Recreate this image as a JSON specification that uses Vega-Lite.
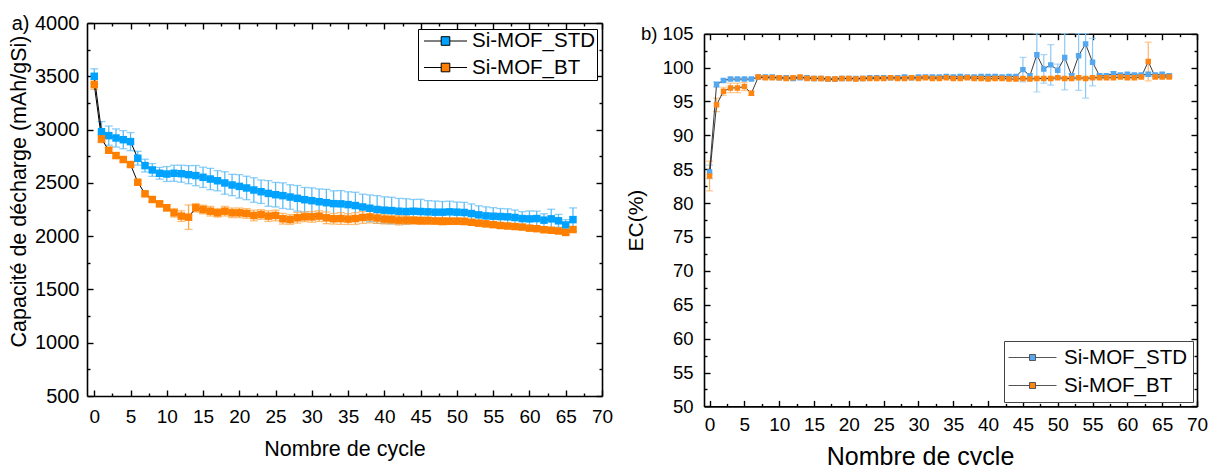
{
  "$schema": "https://vega.github.io/schema/vega-lite/v6.json",
  "padding": {"left": 8, "top": 13, "right": 0, "bottom": 0},
  "background": "white",
  "columns": 2,
  "align": "none",
  "spacing": 12,
  "config": {
    "font": "Liberation Sans",
    "view": {"stroke": null},
    "axis": {"grid": false, "domainColor": "black", "tickColor": "black", "labelColor": "black", "titleColor": "black", "titleFontWeight": "normal", "labelFlush": false, "labelOverlap": false, "domainWidth": 1.6, "tickWidth": 1.4, "labelFontSize": 19, "titleFontSize": 21.5, "labelFont": "Liberation Sans", "titleFont": "Liberation Sans"}
  },
  "resolve": {"scale": {"color": "independent", "x": "independent", "y": "independent"}, "legend": {"color": "independent"}},
  "datasets": {
    "cap": [
      {"cycle":0,"series":"Si-MOF_STD","value":3500,"error":70},{"cycle":1,"series":"Si-MOF_STD","value":2980,"error":95},{"cycle":2,"series":"Si-MOF_STD","value":2943,"error":90},{"cycle":3,"series":"Si-MOF_STD","value":2921,"error":85},{"cycle":4,"series":"Si-MOF_STD","value":2905,"error":85},{"cycle":5,"series":"Si-MOF_STD","value":2887,"error":85},{"cycle":6,"series":"Si-MOF_STD","value":2731,"error":65},{"cycle":7,"series":"Si-MOF_STD","value":2662,"error":60},{"cycle":8,"series":"Si-MOF_STD","value":2621,"error":60},{"cycle":9,"series":"Si-MOF_STD","value":2590,"error":55},
      {"cycle":10,"series":"Si-MOF_STD","value":2583,"error":70},{"cycle":11,"series":"Si-MOF_STD","value":2590,"error":75},{"cycle":12,"series":"Si-MOF_STD","value":2586,"error":80},{"cycle":13,"series":"Si-MOF_STD","value":2577,"error":85},{"cycle":14,"series":"Si-MOF_STD","value":2568,"error":95},{"cycle":15,"series":"Si-MOF_STD","value":2552,"error":95},{"cycle":16,"series":"Si-MOF_STD","value":2536,"error":100},{"cycle":17,"series":"Si-MOF_STD","value":2520,"error":95},{"cycle":18,"series":"Si-MOF_STD","value":2499,"error":105},{"cycle":19,"series":"Si-MOF_STD","value":2480,"error":100},
      {"cycle":20,"series":"Si-MOF_STD","value":2467,"error":110},{"cycle":21,"series":"Si-MOF_STD","value":2452,"error":110},{"cycle":22,"series":"Si-MOF_STD","value":2433,"error":115},{"cycle":23,"series":"Si-MOF_STD","value":2417,"error":110},{"cycle":24,"series":"Si-MOF_STD","value":2401,"error":120},{"cycle":25,"series":"Si-MOF_STD","value":2389,"error":115},{"cycle":26,"series":"Si-MOF_STD","value":2380,"error":120},{"cycle":27,"series":"Si-MOF_STD","value":2367,"error":115},{"cycle":28,"series":"Si-MOF_STD","value":2355,"error":120},{"cycle":29,"series":"Si-MOF_STD","value":2342,"error":115},
      {"cycle":30,"series":"Si-MOF_STD","value":2333,"error":120},{"cycle":31,"series":"Si-MOF_STD","value":2323,"error":120},{"cycle":32,"series":"Si-MOF_STD","value":2314,"error":125},{"cycle":33,"series":"Si-MOF_STD","value":2305,"error":120},{"cycle":34,"series":"Si-MOF_STD","value":2303,"error":125},{"cycle":35,"series":"Si-MOF_STD","value":2296,"error":120},{"cycle":36,"series":"Si-MOF_STD","value":2287,"error":125},{"cycle":37,"series":"Si-MOF_STD","value":2274,"error":120},{"cycle":38,"series":"Si-MOF_STD","value":2262,"error":125},{"cycle":39,"series":"Si-MOF_STD","value":2250,"error":130},
      {"cycle":40,"series":"Si-MOF_STD","value":2244,"error":125},{"cycle":41,"series":"Si-MOF_STD","value":2240,"error":125},{"cycle":42,"series":"Si-MOF_STD","value":2234,"error":120},{"cycle":43,"series":"Si-MOF_STD","value":2231,"error":120},{"cycle":44,"series":"Si-MOF_STD","value":2234,"error":110},{"cycle":45,"series":"Si-MOF_STD","value":2231,"error":115},{"cycle":46,"series":"Si-MOF_STD","value":2228,"error":105},{"cycle":47,"series":"Si-MOF_STD","value":2225,"error":105},{"cycle":48,"series":"Si-MOF_STD","value":2225,"error":100},{"cycle":49,"series":"Si-MOF_STD","value":2228,"error":100},
      {"cycle":50,"series":"Si-MOF_STD","value":2225,"error":95},{"cycle":51,"series":"Si-MOF_STD","value":2222,"error":95},{"cycle":52,"series":"Si-MOF_STD","value":2212,"error":90},{"cycle":53,"series":"Si-MOF_STD","value":2200,"error":85},{"cycle":54,"series":"Si-MOF_STD","value":2190,"error":85},{"cycle":55,"series":"Si-MOF_STD","value":2187,"error":80},{"cycle":56,"series":"Si-MOF_STD","value":2184,"error":75},{"cycle":57,"series":"Si-MOF_STD","value":2181,"error":75},{"cycle":58,"series":"Si-MOF_STD","value":2175,"error":70},{"cycle":59,"series":"Si-MOF_STD","value":2165,"error":65},
      {"cycle":60,"series":"Si-MOF_STD","value":2162,"error":75},{"cycle":61,"series":"Si-MOF_STD","value":2165,"error":70},{"cycle":62,"series":"Si-MOF_STD","value":2150,"error":60},{"cycle":63,"series":"Si-MOF_STD","value":2162,"error":90},{"cycle":64,"series":"Si-MOF_STD","value":2144,"error":60},{"cycle":65,"series":"Si-MOF_STD","value":2105,"error":50},{"cycle":66,"series":"Si-MOF_STD","value":2155,"error":110},
      {"cycle":0,"series":"Si-MOF_BT","value":3422,"error":45},{"cycle":1,"series":"Si-MOF_BT","value":2912,"error":35},{"cycle":2,"series":"Si-MOF_BT","value":2806,"error":25},{"cycle":3,"series":"Si-MOF_BT","value":2756,"error":25},{"cycle":4,"series":"Si-MOF_BT","value":2719,"error":20},{"cycle":5,"series":"Si-MOF_BT","value":2672,"error":20},{"cycle":6,"series":"Si-MOF_BT","value":2506,"error":20},{"cycle":7,"series":"Si-MOF_BT","value":2397,"error":20},{"cycle":8,"series":"Si-MOF_BT","value":2344,"error":20},{"cycle":9,"series":"Si-MOF_BT","value":2303,"error":25},
      {"cycle":10,"series":"Si-MOF_BT","value":2266,"error":30},{"cycle":11,"series":"Si-MOF_BT","value":2219,"error":40},{"cycle":12,"series":"Si-MOF_BT","value":2188,"error":50},{"cycle":13,"series":"Si-MOF_BT","value":2178,"error":115},{"cycle":14,"series":"Si-MOF_BT","value":2266,"error":40},{"cycle":15,"series":"Si-MOF_BT","value":2250,"error":40},{"cycle":16,"series":"Si-MOF_BT","value":2234,"error":45},{"cycle":17,"series":"Si-MOF_BT","value":2219,"error":40},{"cycle":18,"series":"Si-MOF_BT","value":2234,"error":45},{"cycle":19,"series":"Si-MOF_BT","value":2219,"error":45},
      {"cycle":20,"series":"Si-MOF_BT","value":2219,"error":45},{"cycle":21,"series":"Si-MOF_BT","value":2213,"error":45},{"cycle":22,"series":"Si-MOF_BT","value":2194,"error":50},{"cycle":23,"series":"Si-MOF_BT","value":2203,"error":45},{"cycle":24,"series":"Si-MOF_BT","value":2188,"error":50},{"cycle":25,"series":"Si-MOF_BT","value":2194,"error":50},{"cycle":26,"series":"Si-MOF_BT","value":2163,"error":50},{"cycle":27,"series":"Si-MOF_BT","value":2156,"error":45},{"cycle":28,"series":"Si-MOF_BT","value":2172,"error":50},{"cycle":29,"series":"Si-MOF_BT","value":2181,"error":45},
      {"cycle":30,"series":"Si-MOF_BT","value":2181,"error":50},{"cycle":31,"series":"Si-MOF_BT","value":2188,"error":50},{"cycle":32,"series":"Si-MOF_BT","value":2172,"error":55},{"cycle":33,"series":"Si-MOF_BT","value":2163,"error":50},{"cycle":34,"series":"Si-MOF_BT","value":2165,"error":55},{"cycle":35,"series":"Si-MOF_BT","value":2160,"error":50},{"cycle":36,"series":"Si-MOF_BT","value":2165,"error":55},{"cycle":37,"series":"Si-MOF_BT","value":2175,"error":55},{"cycle":38,"series":"Si-MOF_BT","value":2180,"error":55},{"cycle":39,"series":"Si-MOF_BT","value":2170,"error":50},
      {"cycle":40,"series":"Si-MOF_BT","value":2160,"error":45},{"cycle":41,"series":"Si-MOF_BT","value":2155,"error":40},{"cycle":42,"series":"Si-MOF_BT","value":2150,"error":45},{"cycle":43,"series":"Si-MOF_BT","value":2150,"error":40},{"cycle":44,"series":"Si-MOF_BT","value":2148,"error":35},{"cycle":45,"series":"Si-MOF_BT","value":2145,"error":35},{"cycle":46,"series":"Si-MOF_BT","value":2145,"error":35},{"cycle":47,"series":"Si-MOF_BT","value":2142,"error":30},{"cycle":48,"series":"Si-MOF_BT","value":2140,"error":35},{"cycle":49,"series":"Si-MOF_BT","value":2140,"error":30},
      {"cycle":50,"series":"Si-MOF_BT","value":2140,"error":30},{"cycle":51,"series":"Si-MOF_BT","value":2138,"error":30},{"cycle":52,"series":"Si-MOF_BT","value":2130,"error":25},{"cycle":53,"series":"Si-MOF_BT","value":2122,"error":25},{"cycle":54,"series":"Si-MOF_BT","value":2115,"error":25},{"cycle":55,"series":"Si-MOF_BT","value":2108,"error":25},{"cycle":56,"series":"Si-MOF_BT","value":2100,"error":25},{"cycle":57,"series":"Si-MOF_BT","value":2095,"error":20},{"cycle":58,"series":"Si-MOF_BT","value":2090,"error":20},{"cycle":59,"series":"Si-MOF_BT","value":2085,"error":20},
      {"cycle":60,"series":"Si-MOF_BT","value":2075,"error":20},{"cycle":61,"series":"Si-MOF_BT","value":2070,"error":20},{"cycle":62,"series":"Si-MOF_BT","value":2060,"error":20},{"cycle":63,"series":"Si-MOF_BT","value":2055,"error":20},{"cycle":64,"series":"Si-MOF_BT","value":2048,"error":20},{"cycle":65,"series":"Si-MOF_BT","value":2035,"error":20},{"cycle":66,"series":"Si-MOF_BT","value":2062,"error":20}
    ],
    "ec": [
      {"cycle":0,"series":"Si-MOF_STD","value":84.6,"error":1.0},{"cycle":1,"series":"Si-MOF_STD","value":97.5,"error":0.4},{"cycle":2,"series":"Si-MOF_STD","value":98.1,"error":0.2},{"cycle":3,"series":"Si-MOF_STD","value":98.3,"error":0.2},{"cycle":4,"series":"Si-MOF_STD","value":98.3,"error":0.2},{"cycle":5,"series":"Si-MOF_STD","value":98.3,"error":0.2},{"cycle":6,"series":"Si-MOF_STD","value":98.3,"error":0.2},{"cycle":7,"series":"Si-MOF_STD","value":98.6,"error":0.2},{"cycle":8,"series":"Si-MOF_STD","value":98.6,"error":0.2},{"cycle":9,"series":"Si-MOF_STD","value":98.6,"error":0.2},
      {"cycle":10,"series":"Si-MOF_STD","value":98.5,"error":0.2},{"cycle":11,"series":"Si-MOF_STD","value":98.5,"error":0.2},{"cycle":12,"series":"Si-MOF_STD","value":98.4,"error":0.2},{"cycle":13,"series":"Si-MOF_STD","value":98.5,"error":0.2},{"cycle":14,"series":"Si-MOF_STD","value":98.5,"error":0.2},{"cycle":15,"series":"Si-MOF_STD","value":98.4,"error":0.2},{"cycle":16,"series":"Si-MOF_STD","value":98.4,"error":0.2},{"cycle":17,"series":"Si-MOF_STD","value":98.3,"error":0.2},{"cycle":18,"series":"Si-MOF_STD","value":98.3,"error":0.2},{"cycle":19,"series":"Si-MOF_STD","value":98.4,"error":0.2},
      {"cycle":20,"series":"Si-MOF_STD","value":98.4,"error":0.2},{"cycle":21,"series":"Si-MOF_STD","value":98.4,"error":0.2},{"cycle":22,"series":"Si-MOF_STD","value":98.4,"error":0.2},{"cycle":23,"series":"Si-MOF_STD","value":98.5,"error":0.2},{"cycle":24,"series":"Si-MOF_STD","value":98.5,"error":0.2},{"cycle":25,"series":"Si-MOF_STD","value":98.5,"error":0.2},{"cycle":26,"series":"Si-MOF_STD","value":98.5,"error":0.2},{"cycle":27,"series":"Si-MOF_STD","value":98.5,"error":0.2},{"cycle":28,"series":"Si-MOF_STD","value":98.6,"error":0.2},{"cycle":29,"series":"Si-MOF_STD","value":98.5,"error":0.2},
      {"cycle":30,"series":"Si-MOF_STD","value":98.6,"error":0.2},{"cycle":31,"series":"Si-MOF_STD","value":98.6,"error":0.2},{"cycle":32,"series":"Si-MOF_STD","value":98.6,"error":0.2},{"cycle":33,"series":"Si-MOF_STD","value":98.6,"error":0.2},{"cycle":34,"series":"Si-MOF_STD","value":98.7,"error":0.2},{"cycle":35,"series":"Si-MOF_STD","value":98.6,"error":0.2},{"cycle":36,"series":"Si-MOF_STD","value":98.7,"error":0.2},{"cycle":37,"series":"Si-MOF_STD","value":98.6,"error":0.2},{"cycle":38,"series":"Si-MOF_STD","value":98.6,"error":0.2},{"cycle":39,"series":"Si-MOF_STD","value":98.7,"error":0.2},
      {"cycle":40,"series":"Si-MOF_STD","value":98.7,"error":0.2},{"cycle":41,"series":"Si-MOF_STD","value":98.7,"error":0.2},{"cycle":42,"series":"Si-MOF_STD","value":98.6,"error":0.2},{"cycle":43,"series":"Si-MOF_STD","value":98.7,"error":0.2},{"cycle":44,"series":"Si-MOF_STD","value":98.7,"error":0.2},{"cycle":45,"series":"Si-MOF_STD","value":99.7,"error":1.8},{"cycle":46,"series":"Si-MOF_STD","value":98.8,"error":0.3},{"cycle":47,"series":"Si-MOF_STD","value":101.9,"error":5.5},{"cycle":48,"series":"Si-MOF_STD","value":99.8,"error":2.1},{"cycle":49,"series":"Si-MOF_STD","value":100.4,"error":3.0},
      {"cycle":50,"series":"Si-MOF_STD","value":99.6,"error":0.9},{"cycle":51,"series":"Si-MOF_STD","value":101.5,"error":4.8},{"cycle":52,"series":"Si-MOF_STD","value":98.8,"error":0.3},{"cycle":53,"series":"Si-MOF_STD","value":101.75,"error":5.1},{"cycle":54,"series":"Si-MOF_STD","value":103.5,"error":8.0},{"cycle":55,"series":"Si-MOF_STD","value":100.8,"error":3.5},{"cycle":56,"series":"Si-MOF_STD","value":98.8,"error":0.2},{"cycle":57,"series":"Si-MOF_STD","value":98.8,"error":0.2},{"cycle":58,"series":"Si-MOF_STD","value":99.1,"error":0.3},{"cycle":59,"series":"Si-MOF_STD","value":98.9,"error":0.2},
      {"cycle":60,"series":"Si-MOF_STD","value":99.0,"error":0.2},{"cycle":61,"series":"Si-MOF_STD","value":98.9,"error":0.2},{"cycle":62,"series":"Si-MOF_STD","value":98.9,"error":0.2},{"cycle":63,"series":"Si-MOF_STD","value":99.0,"error":0.3},{"cycle":64,"series":"Si-MOF_STD","value":98.9,"error":0.2},{"cycle":65,"series":"Si-MOF_STD","value":99.0,"error":0.2},{"cycle":66,"series":"Si-MOF_STD","value":98.8,"error":0.2},
      {"cycle":0,"series":"Si-MOF_BT","value":84.0,"error":2.2},{"cycle":1,"series":"Si-MOF_BT","value":94.5,"error":1.0},{"cycle":2,"series":"Si-MOF_BT","value":96.5,"error":0.6},{"cycle":3,"series":"Si-MOF_BT","value":97.0,"error":0.7},{"cycle":4,"series":"Si-MOF_BT","value":97.0,"error":0.7},{"cycle":5,"series":"Si-MOF_BT","value":97.2,"error":0.6},{"cycle":6,"series":"Si-MOF_BT","value":96.2,"error":0.3},{"cycle":7,"series":"Si-MOF_BT","value":98.6,"error":0.2},{"cycle":8,"series":"Si-MOF_BT","value":98.5,"error":0.2},{"cycle":9,"series":"Si-MOF_BT","value":98.5,"error":0.2},
      {"cycle":10,"series":"Si-MOF_BT","value":98.5,"error":0.15},{"cycle":11,"series":"Si-MOF_BT","value":98.4,"error":0.15},{"cycle":12,"series":"Si-MOF_BT","value":98.5,"error":0.15},{"cycle":13,"series":"Si-MOF_BT","value":98.6,"error":0.15},{"cycle":14,"series":"Si-MOF_BT","value":98.4,"error":0.15},{"cycle":15,"series":"Si-MOF_BT","value":98.4,"error":0.15},{"cycle":16,"series":"Si-MOF_BT","value":98.4,"error":0.15},{"cycle":17,"series":"Si-MOF_BT","value":98.3,"error":0.15},{"cycle":18,"series":"Si-MOF_BT","value":98.3,"error":0.15},{"cycle":19,"series":"Si-MOF_BT","value":98.4,"error":0.15},
      {"cycle":20,"series":"Si-MOF_BT","value":98.4,"error":0.15},{"cycle":21,"series":"Si-MOF_BT","value":98.3,"error":0.15},{"cycle":22,"series":"Si-MOF_BT","value":98.4,"error":0.15},{"cycle":23,"series":"Si-MOF_BT","value":98.4,"error":0.15},{"cycle":24,"series":"Si-MOF_BT","value":98.4,"error":0.15},{"cycle":25,"series":"Si-MOF_BT","value":98.4,"error":0.15},{"cycle":26,"series":"Si-MOF_BT","value":98.5,"error":0.15},{"cycle":27,"series":"Si-MOF_BT","value":98.4,"error":0.15},{"cycle":28,"series":"Si-MOF_BT","value":98.4,"error":0.15},{"cycle":29,"series":"Si-MOF_BT","value":98.5,"error":0.15},
      {"cycle":30,"series":"Si-MOF_BT","value":98.4,"error":0.15},{"cycle":31,"series":"Si-MOF_BT","value":98.5,"error":0.15},{"cycle":32,"series":"Si-MOF_BT","value":98.4,"error":0.15},{"cycle":33,"series":"Si-MOF_BT","value":98.4,"error":0.15},{"cycle":34,"series":"Si-MOF_BT","value":98.5,"error":0.15},{"cycle":35,"series":"Si-MOF_BT","value":98.4,"error":0.15},{"cycle":36,"series":"Si-MOF_BT","value":98.4,"error":0.15},{"cycle":37,"series":"Si-MOF_BT","value":98.5,"error":0.15},{"cycle":38,"series":"Si-MOF_BT","value":98.4,"error":0.15},{"cycle":39,"series":"Si-MOF_BT","value":98.4,"error":0.15},
      {"cycle":40,"series":"Si-MOF_BT","value":98.3,"error":0.15},{"cycle":41,"series":"Si-MOF_BT","value":98.4,"error":0.15},{"cycle":42,"series":"Si-MOF_BT","value":98.4,"error":0.15},{"cycle":43,"series":"Si-MOF_BT","value":98.3,"error":0.15},{"cycle":44,"series":"Si-MOF_BT","value":98.3,"error":0.15},{"cycle":45,"series":"Si-MOF_BT","value":98.4,"error":0.15},{"cycle":46,"series":"Si-MOF_BT","value":98.3,"error":0.15},{"cycle":47,"series":"Si-MOF_BT","value":98.4,"error":0.15},{"cycle":48,"series":"Si-MOF_BT","value":98.4,"error":0.15},{"cycle":49,"series":"Si-MOF_BT","value":98.4,"error":0.15},
      {"cycle":50,"series":"Si-MOF_BT","value":98.5,"error":0.15},{"cycle":51,"series":"Si-MOF_BT","value":98.4,"error":0.15},{"cycle":52,"series":"Si-MOF_BT","value":98.4,"error":0.15},{"cycle":53,"series":"Si-MOF_BT","value":98.5,"error":0.15},{"cycle":54,"series":"Si-MOF_BT","value":98.4,"error":0.15},{"cycle":55,"series":"Si-MOF_BT","value":98.5,"error":0.15},{"cycle":56,"series":"Si-MOF_BT","value":98.5,"error":0.15},{"cycle":57,"series":"Si-MOF_BT","value":98.5,"error":0.15},{"cycle":58,"series":"Si-MOF_BT","value":98.5,"error":0.15},{"cycle":59,"series":"Si-MOF_BT","value":98.6,"error":0.15},
      {"cycle":60,"series":"Si-MOF_BT","value":98.5,"error":0.15},{"cycle":61,"series":"Si-MOF_BT","value":98.5,"error":0.15},{"cycle":62,"series":"Si-MOF_BT","value":98.6,"error":0.15},{"cycle":63,"series":"Si-MOF_BT","value":100.9,"error":2.85},{"cycle":64,"series":"Si-MOF_BT","value":98.6,"error":0.15},{"cycle":65,"series":"Si-MOF_BT","value":98.6,"error":0.15},{"cycle":66,"series":"Si-MOF_BT","value":98.6,"error":0.15}
    ]
  },
  "concat": [
    {
      "width": 515,
      "height": 373,
      "data": {"name": "cap"},
      "layer": [
        {
          "transform": [{"filter": "datum.series === 'Si-MOF_STD'"}],
          "mark": {"type": "errorbar", "ticks": {"size": 8}, "thickness": 1.3, "clip": true, "color": "#5BBBF5"},
          "encoding": {
            "x": {"field": "cycle", "type": "quantitative", "scale": {"domain": [-1, 70], "nice": false, "zero": false}, "axis": null},
            "y": {"field": "value", "type": "quantitative", "scale": {"domain": [500, 4000], "nice": false, "zero": false}, "axis": null},
            "yError": {"field": "error"}
          }
        },
        {
          "transform": [{"filter": "datum.series === 'Si-MOF_BT'"}],
          "mark": {"type": "errorbar", "ticks": {"size": 8}, "thickness": 1.3, "clip": true, "color": "#FFA544"},
          "encoding": {
            "x": {"field": "cycle", "type": "quantitative", "scale": {"domain": [-1, 70], "nice": false, "zero": false}, "axis": null},
            "y": {"field": "value", "type": "quantitative", "scale": {"domain": [500, 4000], "nice": false, "zero": false}, "axis": null},
            "yError": {"field": "error"}
          }
        },
        {
          "mark": {"type": "line", "color": "black", "strokeWidth": 1, "clip": true},
          "encoding": {
            "x": {"field": "cycle", "type": "quantitative", "scale": {"domain": [-1, 70], "nice": false, "zero": false},
              "axis": {"orient": "bottom", "title": "Nombre de cycle", "values": [0,2.5,5,7.5,10,12.5,15,17.5,20,22.5,25,27.5,30,32.5,35,37.5,40,42.5,45,47.5,50,52.5,55,57.5,60,62.5,65,67.5,70],
                "labelExpr": "datum.value % 5 === 0 ? datum.label : ''",
                "tickSize": {"condition": {"test": "datum.value % 5 === 0", "value": -6}, "value": -3},
                "labelPadding": 17.5, "minExtent": 30, "maxExtent": 30, "titlePadding": 12}},
            "y": {"field": "value", "type": "quantitative", "scale": {"domain": [500, 4000], "nice": false, "zero": false},
              "axis": {"orient": "left", "title": "Capacité de décharge (mAh/gSi)", "titleFontSize": 21.5, "titleY": 168, "labelFontSize": 20, "format": "d", "values": [500,750,1000,1250,1500,1750,2000,2250,2500,2750,3000,3250,3500,3750,4000],
                "labelExpr": "datum.value === 4000 ? 'a) 4000' : (datum.value % 500 === 0 ? datum.label : '')",
                "tickSize": {"condition": {"test": "datum.value % 500 === 0", "value": -6}, "value": -3},
                "labelPadding": 14, "minExtent": 50, "maxExtent": 50, "titlePadding": 7}},
            "detail": {"field": "series"}
          }
        },
        {
          "mark": {"type": "point", "shape": "square", "filled": true, "size": 56, "opacity": 1, "strokeWidth": 0, "clip": true},
          "encoding": {
            "x": {"field": "cycle", "type": "quantitative", "scale": {"domain": [-1, 70], "nice": false, "zero": false},
              "axis": {"orient": "top", "title": null, "labels": false, "values": [0,2.5,5,7.5,10,12.5,15,17.5,20,22.5,25,27.5,30,32.5,35,37.5,40,42.5,45,47.5,50,52.5,55,57.5,60,62.5,65,67.5,70],
                "tickSize": {"condition": {"test": "datum.value % 5 === 0", "value": -6}, "value": -3}, "minExtent": 0, "maxExtent": 0}},
            "y": {"field": "value", "type": "quantitative", "scale": {"domain": [500, 4000], "nice": false, "zero": false},
              "axis": {"orient": "right", "title": null, "labels": false, "values": [500,750,1000,1250,1500,1750,2000,2250,2500,2750,3000,3250,3500,3750,4000],
                "tickSize": {"condition": {"test": "datum.value % 500 === 0", "value": -6}, "value": -3}, "minExtent": 0, "maxExtent": 0}},
            "color": {"field": "series", "type": "nominal", "scale": {"domain": ["Si-MOF_STD", "Si-MOF_BT"], "range": ["#00A2FF", "#FF8000"]},
              "legend": {"title": null, "orient": "top-right", "offset": 5.5, "symbolType": "M-2.15,0H-0.43M0.43,0H2.15M-0.43,-0.43H0.43V0.43H-0.43Z", "symbolSize": 400, "symbolStrokeColor": "black", "symbolStrokeWidth": 1, "symbolOpacity": 1, "labelFontSize": 20.5, "labelColor": "black", "labelFont": "Liberation Sans", "strokeColor": "black", "fillColor": "white", "padding": 1.5, "symbolOffset": 15.5, "labelOffset": 16, "rowPadding": 5.5, "cornerRadius": 0}}
          }
        }
      ],
      "resolve": {"axis": {"x": "independent", "y": "independent"}}
    },
    {
      "width": 493,
      "height": 383.4,
      "data": {"name": "ec"},
      "layer": [
        {
          "transform": [{"filter": "datum.series === 'Si-MOF_STD'"}],
          "mark": {"type": "errorbar", "ticks": {"size": 7}, "thickness": 1.2, "clip": true, "color": "#8CC8F5"},
          "encoding": {
            "x": {"field": "cycle", "type": "quantitative", "scale": {"domain": [-0.8, 70], "nice": false, "zero": false}, "axis": null},
            "y": {"field": "value", "type": "quantitative", "scale": {"domain": [50, 105], "range": [383.4, 10.7], "clamp": true, "nice": false, "zero": false}, "axis": null},
            "yError": {"field": "error"}
          }
        },
        {
          "transform": [{"filter": "datum.series === 'Si-MOF_BT'"}],
          "mark": {"type": "errorbar", "ticks": {"size": 7}, "thickness": 1.2, "clip": true, "color": "#FFB468"},
          "encoding": {
            "x": {"field": "cycle", "type": "quantitative", "scale": {"domain": [-0.8, 70], "nice": false, "zero": false}, "axis": null},
            "y": {"field": "value", "type": "quantitative", "scale": {"domain": [50, 105], "range": [383.4, 10.7], "clamp": true, "nice": false, "zero": false}, "axis": null},
            "yError": {"field": "error"}
          }
        },
        {
          "mark": {"type": "line", "color": "#222222", "strokeWidth": 0.9, "clip": true},
          "encoding": {
            "x": {"field": "cycle", "type": "quantitative", "scale": {"domain": [-0.8, 70], "nice": false, "zero": false},
              "axis": {"orient": "bottom", "title": "Nombre de cycle", "titleFontSize": 25, "titleX": 216, "values": [0,2.5,5,7.5,10,12.5,15,17.5,20,22.5,25,27.5,30,32.5,35,37.5,40,42.5,45,47.5,50,52.5,55,57.5,60,62.5,65,67.5,70],
                "labelExpr": "datum.value % 5 === 0 ? datum.label : ''",
                "tickSize": {"condition": {"test": "datum.value % 5 === 0", "value": -6}, "value": -3},
                "labelPadding": 15, "minExtent": 30, "maxExtent": 30, "titlePadding": 8}},
            "y": {"field": "value", "type": "quantitative", "scale": {"domain": [50, 105], "range": [383.4, 10.7], "clamp": true, "nice": false, "zero": false},
              "axis": {"orient": "left", "title": "EC(%)", "titleFontSize": 21, "labelFontSize": 18.5, "format": "d", "values": [50,52.5,55,57.5,60,62.5,65,67.5,70,72.5,75,77.5,80,82.5,85,87.5,90,92.5,95,97.5,100,102.5,105],
                "labelExpr": "datum.value === 105 ? 'b) 105' : (datum.value % 5 === 0 ? datum.label : '')",
                "tickSize": {"condition": {"test": "datum.value % 5 === 0", "value": -6}, "value": -3},
                "labelPadding": 17, "minExtent": 45, "maxExtent": 45, "titlePadding": 13}},
            "detail": {"field": "series"}
          }
        },
        {
          "mark": {"type": "point", "shape": "square", "filled": true, "size": 30, "opacity": 1, "strokeWidth": 0, "clip": true},
          "encoding": {
            "x": {"field": "cycle", "type": "quantitative", "scale": {"domain": [-0.8, 70], "nice": false, "zero": false},
              "axis": {"orient": "top", "title": null, "labels": false, "offset": -10.7, "values": [0,2.5,5,7.5,10,12.5,15,17.5,20,22.5,25,27.5,30,32.5,35,37.5,40,42.5,45,47.5,50,52.5,55,57.5,60,62.5,65,67.5,70],
                "tickSize": {"condition": {"test": "datum.value % 5 === 0", "value": -6}, "value": -3}, "minExtent": 0, "maxExtent": 0}},
            "y": {"field": "value", "type": "quantitative", "scale": {"domain": [50, 105], "range": [383.4, 10.7], "clamp": true, "nice": false, "zero": false},
              "axis": {"orient": "right", "title": null, "labels": false, "values": [50,52.5,55,57.5,60,62.5,65,67.5,70,72.5,75,77.5,80,82.5,85,87.5,90,92.5,95,97.5,100,102.5,105],
                "tickSize": {"condition": {"test": "datum.value % 5 === 0", "value": -6}, "value": -3}, "minExtent": 0, "maxExtent": 0}},
            "color": {"field": "series", "type": "nominal", "scale": {"domain": ["Si-MOF_STD", "Si-MOF_BT"], "range": ["#55A8F0", "#FF8410"]},
              "legend": {"title": null, "orient": "bottom-right", "offset": 4, "symbolType": "M-2.4,0H-0.3M0.3,0H2.4M-0.3,-0.3H0.3V0.3H-0.3Z", "symbolSize": 400, "symbolStrokeColor": "#555555", "symbolStrokeWidth": 1, "symbolOpacity": 1, "labelFontSize": 20.5, "labelColor": "black", "labelFont": "Liberation Sans", "strokeColor": "#444444", "fillColor": "white", "padding": 6, "symbolOffset": 12, "labelOffset": 21, "rowPadding": 7, "cornerRadius": 0}}
          }
        }
      ],
      "resolve": {"axis": {"x": "independent", "y": "independent"}}
    }
  ]
}
